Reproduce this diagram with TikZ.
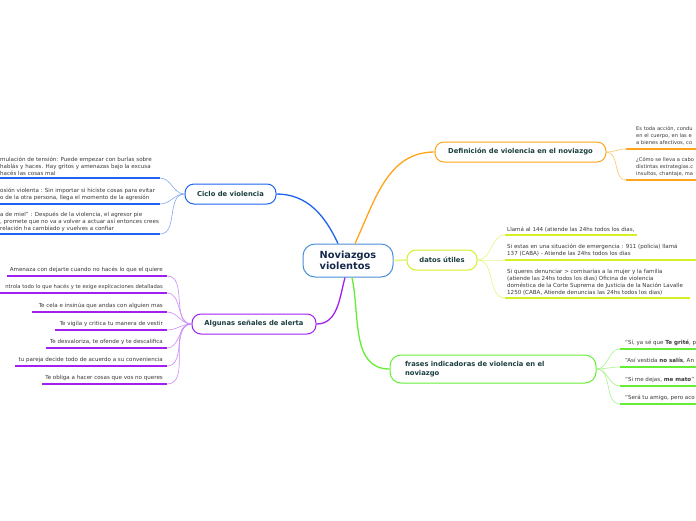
\documentclass[tikz,border=0pt]{standalone}
\usepackage{fontspec}
\setmainfont{DejaVu Sans}
\usetikzlibrary{positioning}

\definecolor{rootedge}{HTML}{4B8FD6}
\definecolor{cicloedge}{HTML}{1F63F2}
\definecolor{ciclotwig}{HTML}{85A8F2}
\definecolor{defedge}{HTML}{FFA41C}
\definecolor{deftwig}{HTML}{FFC46A}
\definecolor{datosedge}{HTML}{D6EE24}
\definecolor{datostwig}{HTML}{E6F682}
\definecolor{frasesedge}{HTML}{66EE36}
\definecolor{frasestwig}{HTML}{A6F68A}
\definecolor{alertaedge}{HTML}{A020F0}
\definecolor{alertatwig}{HTML}{CC8CF6}
\definecolor{labeltext}{HTML}{1C3F3F}
\definecolor{roottext}{HTML}{172A4E}
\definecolor{leaftext}{HTML}{3A3A3A}

\tikzset{
  branch/.style={draw=#1, line width=1pt, rounded corners=9pt, fill=white, text=labeltext,
    font=\bfseries\fontsize{6.8}{8.5}\selectfont, minimum height=20pt, inner sep=2pt},
  leaf/.style={font=\fontsize{5.55}{7}\selectfont, text=leaftext, inner sep=0pt, align=left},
  edgeleaf/.style={leaf, font=\fontsize{5.15}{7}\selectfont},
  oneleaf/.style={leaf, text height=4.2pt, text depth=1.3pt},
  underline/.style={draw=#1, line width=1.6pt},
  twig/.style={draw=#1, line width=0.6pt},
  limb/.style={draw=#1, line width=1.3pt},
}

\begin{document}
\begin{tikzpicture}[x=1pt,y=-1pt]
\clip (0,0) rectangle (696,520);
\fill[white] (0,0) rectangle (696,520);

% centro y ramas
\node[draw=rootedge, line width=1pt, rounded corners=12pt, fill=white, text=roottext,
  font=\bfseries\fontsize{9.8}{11.5}\selectfont, align=left, minimum width=90pt,
  minimum height=33pt] (root) at (348,260.5) {Noviazgos\\violentos};
\node[branch=cicloedge, minimum width=91pt] (ciclo) at (230.5,194) {Ciclo de violencia};
\node[branch=defedge, minimum width=171pt] (defin) at (520.5,152) {Definición de violencia en el noviazgo};
\node[branch=datosedge, minimum width=70pt] (datos) at (442,260) {datos útiles};
\node[branch=frasesedge, minimum width=206pt, minimum height=28pt, text width=176pt,
  align=left, rounded corners=11pt] (frases) at (493,369) {frases indicadoras de violencia en el\\noviazgo};
\node[branch=alertaedge, minimum width=124pt] (senales) at (254,324) {Algunas señales de alerta};

\draw[limb=cicloedge] (ciclo.east) to[out=0,in=115] ([xshift=-10pt]root.north);
\draw[limb=defedge] (defin.west) to[out=180,in=65] ([xshift=7pt]root.north);
\draw[limb=datostwig, line width=1.6pt] (root.east) -- (datos.west);
\draw[limb=frasesedge] (frases.west) to[out=180,in=-78] ([xshift=4pt]root.south);
\draw[limb=alertaedge] (senales.east) to[out=0,in=-105] ([xshift=-3pt]root.south);

% ciclo de violencia
\node[leaf, anchor=north west] (ciclo1) at (0,156.5) {mulación de tensión: Puede empezar con burlas sobre\\hablás y haces. Hay gritos y amenazas bajo la excusa\\ hacés las cosas mal};
\node[leaf, anchor=north west] (ciclo2) at (0,187.5) {osión violenta : Sin importar si hiciste cosas para evitar\\o de la otra persona, llega el momento de la agresión};
\node[leaf, anchor=north west] (ciclo3) at (0,211.5) {a de miel" : Después de la violencia, el agresor pie\\, promete que no va a volver a actuar así entonces crees\\relación ha cambiado y vuelves a confiar};
\foreach \u [count=\i] in {178,204,234}{
  \coordinate (cicloend\i) at (160,\u);
  \draw[underline=cicloedge] (0,\u) -- (cicloend\i);
  \draw[twig=ciclotwig] (ciclo.west) to[out=180,in=0] (cicloend\i);
}

% definicion
\node[edgeleaf, anchor=north west] (defin1) at (636,126.5) {Es toda acción, condu\\en el cuerpo, en las e\\a bienes afectivos, co};
\node[edgeleaf, anchor=north west] (defin2) at (636,157.5) {¿Cómo se lleva a cabo\\distintas estrategias.c\\insultos, chantaje, ma};
\foreach \u [count=\i] in {149,180}{
  \coordinate (definend\i) at (626,\u);
  \draw[underline=defedge] (definend\i) -- (700,\u);
  \draw[twig=deftwig] (defin.east) to[out=0,in=180] (definend\i);
}

% datos utiles
\node[leaf, anchor=north west] (datos1) at (507,226.5) {Llamá al 144 (atiende las 24hs todos los dias,};
\node[leaf, anchor=north west] (datos2) at (507,243.5) {Si estas en una situación de emergencia : 911 (policia) llamá\\137 (CABA) - Atiende las 24hs todos los dias};
\node[leaf, anchor=north west] (datos3) at (507,269.5) {Si queres denunciar > comisarias a la mujer y la familia\\(atiende las 24hs todos los dias) Oficina de violencia\\doméstica de la Corte Suprema de Justicia de la Nación Lavalle\\1250 (CABA, Atiende denuncias las 24hs todos los dias)};
\foreach \u/\e [count=\i] in {235/637,260/700,298/690}{
  \coordinate (datosend\i) at (505,\u);
  \draw[underline=datosedge] (datosend\i) -- (\e,\u);
  \draw[twig=datostwig] (datos.east) to[out=0,in=180] (datosend\i);
}

% frases
\foreach \u/\t [count=\i] in {349/{“Sí, ya sé que \textbf{Te grité}, p},
    367/{“Así vestida \textbf{no salís}, An},
    386/{“Si me dejas, \textbf{me mato}”},
    404/{“Será tu amigo, pero aco}}{
  \node[oneleaf, anchor=south west] (frase\i) at (625,\u-3.5) {\t};
  \coordinate (frasesend\i) at (620,\u);
  \draw[underline=frasesedge] (frasesend\i) -- (700,\u);
  \draw[twig=frasestwig] (frases.east) to[out=0,in=180] (frasesend\i);
}

% senales de alerta
\foreach \u/\x/\s/\t [count=\i] in {276/7/5.55/{Amenaza con dejarte cuando no hacés lo que el quiere},
    293/0/5.25/{ntrola todo lo que hacés y te exige explicaciones detalladas},
    312/32/5.55/{Te cela  e insinúa que andas con alguien mas},
    330/55/5.55/{Te vigila y critica tu manera de vestir},
    348/46/5.55/{Te desvaloriza, te ofende y te descalifica},
    366/15/5.55/{tu pareja decide todo de acuerdo a su conveniencia},
    384/42/5.55/{Te obliga a hacer cosas que vos no queres}}{
  \node[oneleaf, font=\fontsize{\s}{7}\selectfont, anchor=south east] (alerta\i) at (163,\u-3.5) {\t};
  \coordinate (alertaend\i) at (167,\u);
  \draw[underline=alertaedge] (\x,\u) -- (alertaend\i);
  \draw[twig=alertatwig] (senales.west) to[out=180,in=0] (alertaend\i);
}
\end{tikzpicture}
\end{document}
